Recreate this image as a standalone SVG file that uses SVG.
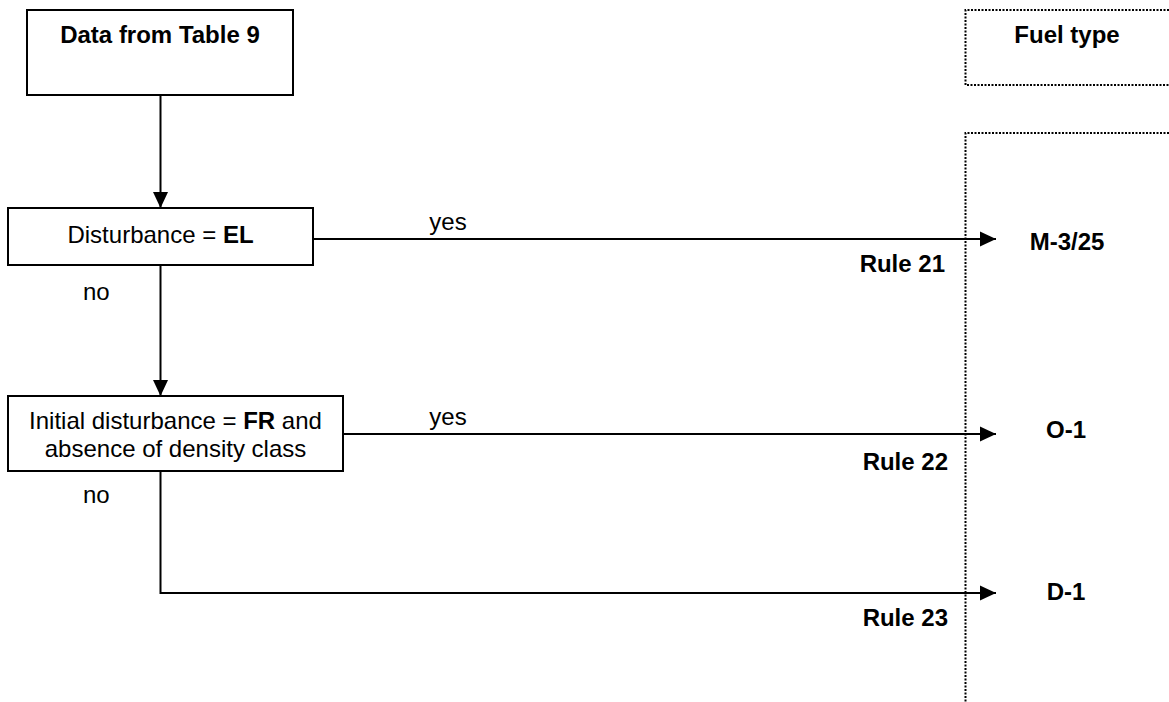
<svg xmlns="http://www.w3.org/2000/svg" width="1169" height="702" viewBox="0 0 1169 702">
<style>
text{font-family:"Liberation Sans",Arial,sans-serif;font-size:24px;fill:#000}
.b{font-weight:bold}
.box{fill:#fff;stroke:#000;stroke-width:2}
.dot{fill:none;stroke:#000;stroke-width:2;stroke-dasharray:2 1.5}
.ln{fill:none;stroke:#000;stroke-width:2}
</style>
<defs>
<marker id="ah" markerUnits="userSpaceOnUse" markerWidth="16" markerHeight="16" viewBox="0 0 16 16" refX="16" refY="8" orient="auto">
<path d="M0,0.5 L16,8 L0,15.5 Z" fill="#000"/>
</marker>
</defs>
<g id="fuel-header">
<path class="dot" d="M1169,10 H965.5 V85 H1169"/>
<text class="b" x="1067" y="43" text-anchor="middle">Fuel type</text>
</g>
<g id="fuel-column">
<path class="dot" d="M1169,133 H965.5 V702"/>
</g>
<g id="connectors">
<line class="ln" x1="160.5" y1="95" x2="160.5" y2="208" marker-end="url(#ah)"/>
<line class="ln" x1="160.5" y1="265" x2="160.5" y2="396" marker-end="url(#ah)"/>
<line class="ln" x1="313" y1="239" x2="996" y2="239" marker-end="url(#ah)"/>
<line class="ln" x1="343" y1="434" x2="996" y2="434" marker-end="url(#ah)"/>
<polyline class="ln" points="160.5,471 160.5,593 996,593" marker-end="url(#ah)"/>
<text x="448" y="230" text-anchor="middle">yes</text>
<text x="448" y="425" text-anchor="middle">yes</text>
<text x="83" y="300">no</text>
<text x="83" y="503">no</text>
<text class="b" x="945" y="272" text-anchor="end">Rule 21</text>
<text class="b" x="948" y="470" text-anchor="end">Rule 22</text>
<text class="b" x="948" y="626" text-anchor="end">Rule 23</text>
</g>
<g id="data">
<rect class="box" x="27" y="10" width="266" height="85"/>
<text class="b" x="160" y="43" text-anchor="middle">Data from Table 9</text>
</g>
<g id="disturbance">
<rect class="box" x="8" y="208" width="305" height="57"/>
<text x="160.5" y="243" text-anchor="middle">Disturbance = <tspan class="b">EL</tspan></text>
</g>
<g id="initial">
<rect class="box" x="8" y="396" width="335" height="75"/>
<text x="175.5" y="429" text-anchor="middle">Initial disturbance = <tspan class="b">FR</tspan> and</text>
<text x="175.5" y="457" text-anchor="middle">absence of density class</text>
</g>
<g id="m3">
<text class="b" x="1067" y="250" text-anchor="middle">M-3/25</text>
</g>
<g id="o1">
<text class="b" x="1066" y="438" text-anchor="middle">O-1</text>
</g>
<g id="d1">
<text class="b" x="1066" y="600" text-anchor="middle">D-1</text>
</g>
</svg>
